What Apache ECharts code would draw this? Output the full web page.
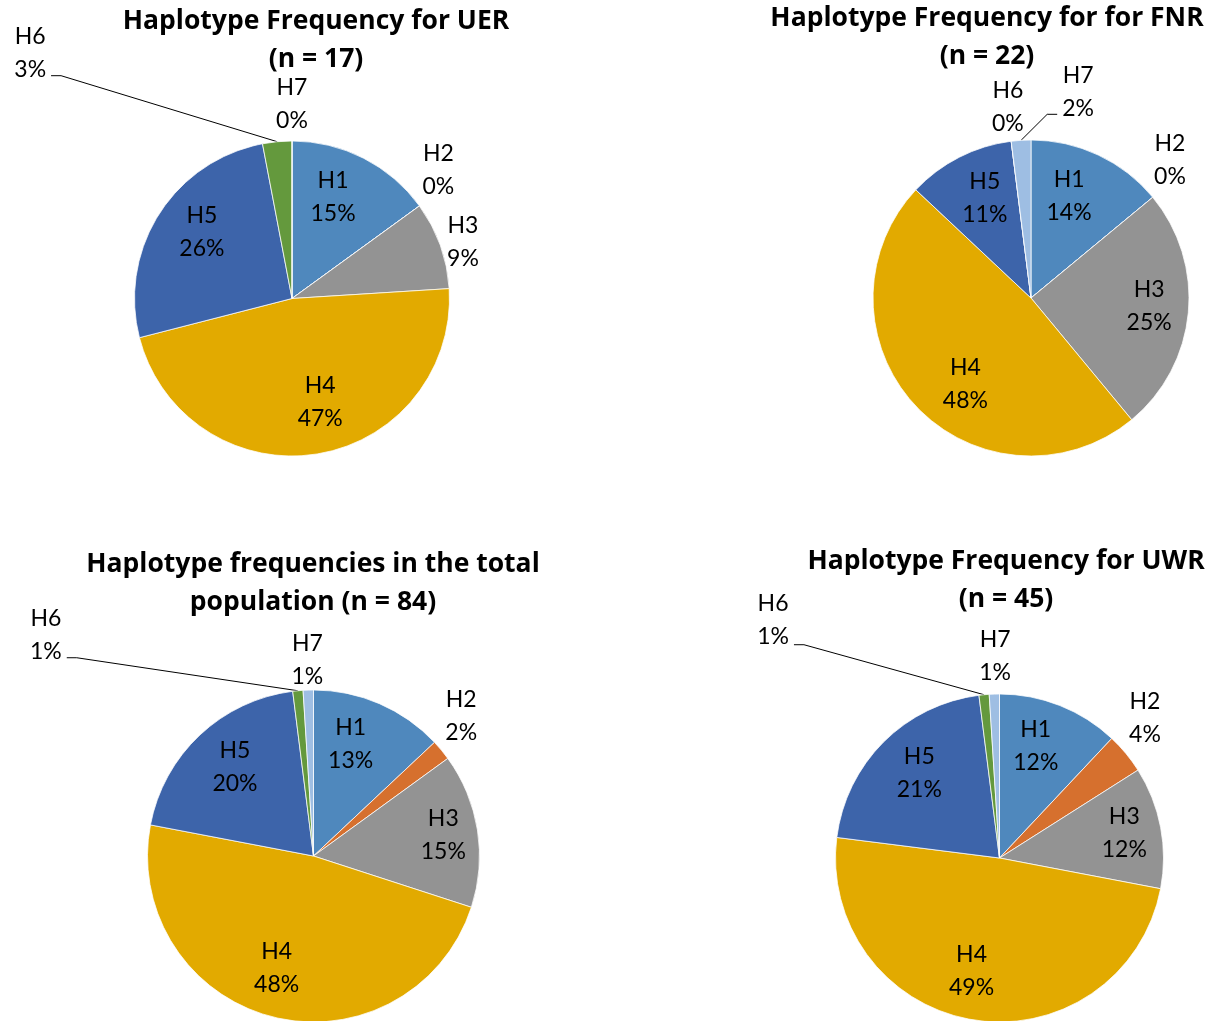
<!DOCTYPE html>
<html>
<head>
<meta charset="utf-8">
<script src="https://cdn.jsdelivr.net/npm/echarts@6/dist/echarts.min.js"></script>
<style>
  html, body { margin: 0; padding: 0; background: #ffffff; }
  #chart { width: 1214px; height: 1021px; }
</style>
</head>
<body>
<div id="chart"></div>
<script>
// Haplotype categories
const haplotypes = ['H1', 'H2', 'H3', 'H4', 'H5', 'H6', 'H7'];

// Haplotype frequencies (%) per population
const uerFreq   = [15, 0, 9, 47, 26, 3, 0];
const fnrFreq   = [14, 0, 25, 48, 11, 0, 2];
const totalFreq = [13, 2, 15, 48, 20, 1, 1];
const uwrFreq   = [12, 4, 12, 49, 21, 1, 1];

// Chart titles
const uerTitle   = 'Haplotype Frequency for UER\n(n = 17)';
const fnrTitle   = 'Haplotype Frequency for for FNR\n(n = 22)';
const totalTitle = 'Haplotype frequencies in the total\npopulation (n = 84)';
const uwrTitle   = 'Haplotype Frequency for UWR\n(n = 45)';

// Slice colours, one per haplotype
const sliceColors = ['#4F88BD', '#D6702E', '#939393', '#E2AA00', '#3D64AA', '#64993D', '#9EBEE3'];

const LABEL_FONT = 'Lato, "Open Sans", sans-serif';
const TITLE_FONT = '"Open Sans", Lato, sans-serif';

// Label placement per slice:
//   f      : radial factor (fraction of radius) along the slice mid-angle
//   dx, dy : fine nudge in pixels
//   lead   : label sits away from the pie; dx/dy are measured from the slice's rim point,
//            a leader line joins them (ly = vertical offset of the line's end from the label centre)
const uerLabels = [
  { f: 0.7, dx: -9, dy: -3 },
  { f: 1.235, dx: -11, dy: -14 },
  { f: 1.14, dx: 2, dy: 4 },
  { f: 0.7, dx: 11, dy: -5 },
  { f: 0.7, dx: 3, dy: -7 },
  { lead: true, dx: -247, dy: -89, ly: 23 },
  { f: 1.235, dx: 0, dy: 0 }
];
const fnrLabels = [
  { f: 0.7, dx: -9, dy: -2 },
  { f: 1.24, dx: -12, dy: -13 },
  { f: 0.7, dx: 8, dy: -2 },
  { f: 0.7, dx: 15, dy: 10 },
  { f: 0.7, dx: 4, dy: -1.5 },
  { f: 1.22, dx: 1, dy: 0 },
  { lead: true, dx: 57, dy: -48, ly: 22 }
];
const totalLabels = [
  { f: 0.7, dx: -9, dy: -5 },
  { f: 1.225, dx: -9, dy: -10 },
  { f: 0.7, dx: 15, dy: -3 },
  { f: 0.7, dx: -8, dy: 0 },
  { f: 0.7, dx: 1, dy: -4 },
  { lead: true, dx: -252, dy: -56, ly: 23 },
  { f: 1.18, dx: 0, dy: 0 }
];
const uwrLabels = [
  { f: 0.7, dx: -6, dy: -5 },
  { f: 1.23, dx: -10, dy: -11 },
  { f: 0.7, dx: 12, dy: -3 },
  { f: 0.7, dx: -10, dy: 0 },
  { f: 0.7, dx: 1, dy: -4 },
  { lead: true, dx: -211, dy: -75, ly: 25 },
  { f: 1.23, dx: 2, dy: 0 }
];

// Panel layout: title anchor and pie centre / radius
const panels = [
  { freq: uerFreq,   title: uerTitle,   tx: 316, ty: 2,   cx: 292,   cy: 298.5, r: 157.5, labels: uerLabels },
  { freq: fnrFreq,   title: fnrTitle,   tx: 987, ty: -1,  cx: 1031,  cy: 298,   r: 158,   labels: fnrLabels },
  { freq: totalFreq, title: totalTitle, tx: 313, ty: 545, cx: 313.5, cy: 856,   r: 166,   labels: totalLabels },
  { freq: uwrFreq,   title: uwrTitle,   tx: 1006, ty: 542, cx: 999.5, cy: 858,  r: 164,   labels: uwrLabels }
];

// Mid-angle of each slice (radians, clockwise from 12 o'clock)
function midAngles(values) {
  const total = values.reduce((a, b) => a + b, 0);
  let cum = 0;
  return values.map(v => {
    const m = (cum + v / 2) / total * 2 * Math.PI;
    cum += v;
    return m;
  });
}

function pieSeries(p) {
  const mids = midAngles(p.freq);
  return {
    type: 'pie',
    center: [p.cx, p.cy],
    radius: [0, p.r],
    startAngle: 90,
    clockwise: true,
    avoidLabelOverlap: false,
    silent: true,
    animation: false,
    itemStyle: { borderColor: '#ffffff', borderWidth: 0.75 },
    label: {
      show: true,
      position: 'outside',
      formatter: d => d.name + '\n' + d.value + '%',
      fontFamily: LABEL_FONT,
      fontSize: 23,
      lineHeight: 33,
      color: '#000000'
    },
    labelLine: { show: false, smooth: false, lineStyle: { color: '#000000', width: 1 } },
    data: haplotypes.map((h, i) => ({
      name: h,
      value: p.freq[i],
      itemStyle: { color: sliceColors[i] },
      labelLine: { show: !!p.labels[i].lead }
    })),
    labelLayout: params => {
      const i = params.dataIndex;
      const spec = p.labels[i];
      const a = mids[i];
      const ux = Math.sin(a), uy = -Math.cos(a);
      if (spec.lead) {
        const w = params.labelRect.width;
        const ex = p.cx + p.r * ux, ey = p.cy + p.r * uy;
        const lx = ex + spec.dx, ly = ey + spec.dy;
        const onLeft = lx < ex;
        const endX = onLeft ? lx + w / 2 + 5 : lx - w / 2 - 5;
        const elbowX = onLeft ? endX + 10 : endX - 10;
        const lineY = ly + spec.ly;
        return {
          x: lx, y: ly, align: 'center', verticalAlign: 'middle',
          labelLinePoints: [[ex, ey], [elbowX, lineY], [endX, lineY]]
        };
      }
      return {
        x: p.cx + p.r * spec.f * ux + spec.dx,
        y: p.cy + p.r * spec.f * uy + spec.dy,
        align: 'center',
        verticalAlign: 'middle'
      };
    }
  };
}

const chart = echarts.init(document.getElementById('chart'), null, { renderer: 'canvas' });
chart.setOption({
  backgroundColor: '#ffffff',
  animation: false,
  title: panels.map(p => ({
    text: p.title,
    left: p.tx,
    top: p.ty,
    padding: 0,
    textAlign: 'center',
    textStyle: {
      fontFamily: TITLE_FONT,
      fontWeight: 'bold',
      fontSize: 26.5,
      lineHeight: 38.5,
      color: '#000000'
    }
  })),
  series: panels.map(pieSeries)
});
</script>
</body>
</html>
